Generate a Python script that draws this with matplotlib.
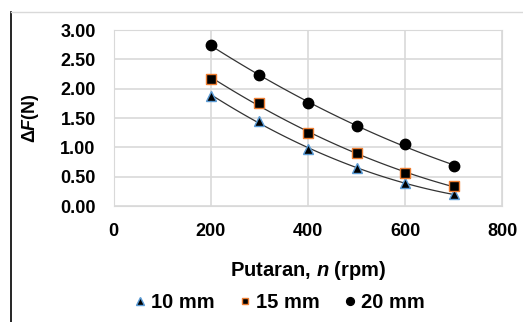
import numpy as np
import matplotlib.pyplot as plt
from matplotlib.lines import Line2D

plt.rcParams['font.family'] = 'Liberation Sans'
plt.rcParams['font.weight'] = 'bold'
plt.rcParams['axes.labelweight'] = 'bold'
plt.rcParams['mathtext.fontset'] = 'custom'
plt.rcParams['mathtext.rm'] = 'Liberation Sans:bold'
plt.rcParams['mathtext.it'] = 'Liberation Sans:italic:bold'

# data
rpm = [200, 300, 400, 500, 600, 700]
f_10mm = [1.88, 1.45, 0.98, 0.64, 0.39, 0.20]
f_15mm = [2.17, 1.76, 1.24, 0.90, 0.56, 0.34]
f_20mm = [2.74, 2.23, 1.76, 1.36, 1.05, 0.68]
labels = ['10 mm', '15 mm', '20 mm']

fig = plt.figure(figsize=(5.23, 3.22), dpi=100)
ax = fig.add_axes([0.2174, 0.3602, 0.7434, 0.5466])

series = [
    (f_10mm, '^', '#5B9BD5', 7.5),
    (f_15mm, 's', '#ED7D31', 6.5),
    (f_20mm, 'o', 'black', 7.5),
]

xx = np.linspace(200, 700, 100)
for (vals, mk, ec, ms), lab in zip(series, labels):
    # polynomial trendline like excel
    p = np.polyfit(rpm, vals, 2)
    ax.plot(xx, np.polyval(p, xx), color='#333333', lw=0.9, zorder=2)
    ax.plot(rpm, vals, ls='none', marker=mk, ms=ms, mfc='black', mec=ec,
            mew=1.0, label=lab, zorder=3)

ax.set_xlim(0, 800)
ax.set_ylim(0, 3)
ax.set_xticks([0, 200, 400, 600, 800])
ax.set_yticks(np.arange(0, 3.01, 0.5))
ax.set_yticklabels([f'{v:.2f}' for v in np.arange(0, 3.01, 0.5)])
ax.grid(True, color='#D9D9D9', lw=1.2)
ax.set_axisbelow(True)
for s in ax.spines.values():
    s.set_color('#D9D9D9')
ax.tick_params(axis='y', length=0, labelsize=13, pad=13)
ax.tick_params(axis='x', length=0, labelsize=13, pad=12)

ax.set_xlabel(r'Putaran, $n$ (rpm)', fontsize=14.5, labelpad=14)
ax.set_ylabel(r'$\Delta\mathit{F}$(N)', fontsize=13, labelpad=14)

leg = fig.legend(loc='center', bbox_to_anchor=(0.53, 0.06), ncol=3,
                 frameon=False, fontsize=14.5, handletextpad=0.05,
                 columnspacing=1.0, markerscale=0.75, handlelength=1.0)

# chart border remnants
fig.add_artist(Line2D([0.021, 0.021], [0.0, 0.963], color='black', lw=1.2))
fig.add_artist(Line2D([0.021, 0.998], [0.963, 0.963], color='#D9D9D9', lw=1.0))

fig.savefig('out.png', dpi=100)
